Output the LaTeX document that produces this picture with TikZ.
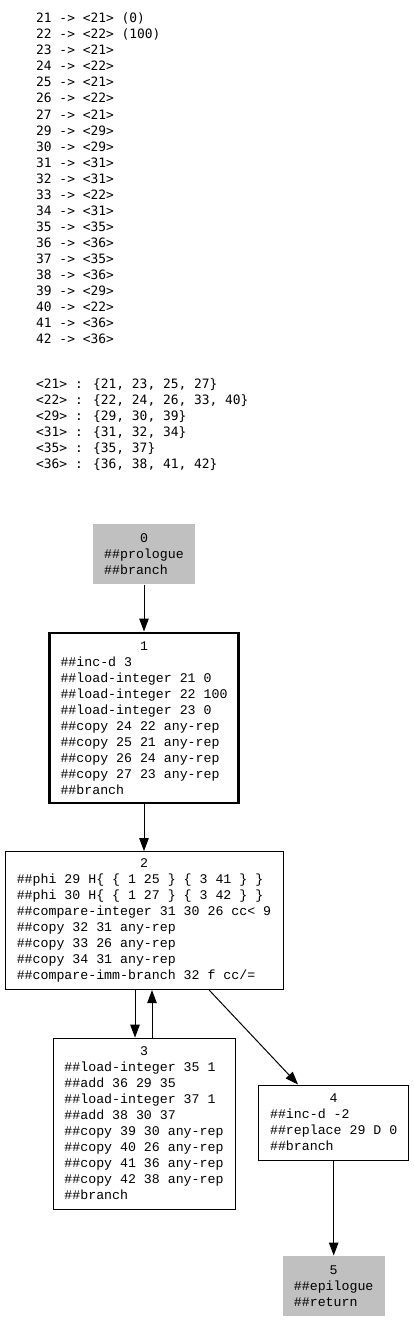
\documentclass[tikz,border=0pt]{standalone}
\usepackage{fontspec}
\usetikzlibrary{arrows.meta,positioning}
\newfontfamily\mapfont{DejaVu Sans Mono}
\newfontfamily\codefont{Liberation Mono}
\definecolor{termgray}{HTML}{C0C0C0}
% block number, centred over the widest line (given in characters)
\newcommand{\blocknum}[2]{\makebox[#2\fontcharwd\font`0]{#1}}
\tikzset{
    block/.style={draw, line width=1pt, rectangle, align=left, inner sep=0pt,
        font=\codefont\fontsize{13.25}{16}\selectfont},
    termblock/.style={block, draw=none, fill=termgray},
    mainblock/.style={block, line width=2.6pt},
    flow/.style={-{Triangle[length=13pt, width=9.5pt]}, line width=1pt},
    mapline/.style={anchor=base west, inner sep=0pt,
        font=\mapfont\fontsize{12.9}{16}\selectfont}
}
\begin{document}
\begin{tikzpicture}[x=1pt, y=-1pt]
    \useasboundingbox (0,0) rectangle (413,1320);

    % Value numbering map
    \foreach \txt [count=\i from 0] in {{21 -> <21> (0)}, {22 -> <22> (100)},
        {23 -> <21>}, {24 -> <22>}, {25 -> <21>}, {26 -> <22>}, {27 -> <21>},
        {29 -> <29>}, {30 -> <29>}, {31 -> <31>}, {32 -> <31>}, {33 -> <22>},
        {34 -> <31>}, {35 -> <35>}, {36 -> <36>}, {37 -> <35>}, {38 -> <36>},
        {39 -> <29>}, {40 -> <22>}, {41 -> <36>}, {42 -> <36>}}
        \node[mapline] (map\i) at (36, {22.7+16.05*\i}) {\txt};

    % Equivalence classes
    \foreach \txt [count=\i from 0] in {{<21> : \{21, 23, 25, 27\}},
        {<22> : \{22, 24, 26, 33, 40\}}, {<29> : \{29, 30, 39\}},
        {<31> : \{31, 32, 34\}}, {<35> : \{35, 37\}}, {<36> : \{36, 38, 41, 42\}}}
        \node[mapline] (cls\i) at (36, {388.7+16*\i}) {\txt};

    % Basic blocks
    \node[termblock, minimum width=102pt, minimum height=60pt] (b0) at (144,554)
        {\blocknum{0}{10}\\\#\#prologue\\\#\#branch};
    \node[mainblock, minimum width=189pt, minimum height=170pt, below=47pt of b0] (b1)
        {\blocknum{1}{21}\\\#\#inc-d 3\\\#\#load-integer 21 0\\\#\#load-integer 22 100\\
         \#\#load-integer 23 0\\\#\#copy 24 22 any-rep\\\#\#copy 25 21 any-rep\\
         \#\#copy 26 24 any-rep\\\#\#copy 27 23 any-rep\\\#\#branch};
    \node[block, minimum width=278pt, minimum height=138pt, below=47pt of b1] (b2)
        {\blocknum{2}{32}\\\#\#phi 29 H\{ \{ 1 25 \} \{ 3 41 \} \}\\
         \#\#phi 30 H\{ \{ 1 27 \} \{ 3 42 \} \}\\\#\#compare-integer 31 30 26 cc< 9\\
         \#\#copy 32 31 any-rep\\\#\#copy 33 26 any-rep\\\#\#copy 34 31 any-rep\\
         \#\#compare-imm-branch 32 f cc/=};
    \node[block, minimum width=182pt, minimum height=171pt, below=47.5pt of b2] (b3)
        {\blocknum{3}{20}\\\#\#load-integer 35 1\\\#\#add 36 29 35\\\#\#load-integer 37 1\\
         \#\#add 38 30 37\\\#\#copy 39 30 any-rep\\\#\#copy 40 26 any-rep\\
         \#\#copy 41 36 any-rep\\\#\#copy 42 38 any-rep\\\#\#branch};
    \node[block, minimum width=150pt, minimum height=75pt] (b4) at (333.7,1122.5)
        {\blocknum{4}{16}\\\#\#inc-d -2\\\#\#replace 29 D 0\\\#\#branch};
    \node[termblock, minimum width=102pt, minimum height=60pt, below=95pt of b4] (b5)
        {\blocknum{5}{10}\\\#\#epilogue\\\#\#return};

    % Control flow
    \draw[flow] (b0) -- (b1);
    \draw[flow] (b1) -- (b2);
    \draw[flow] ([xshift=-9pt]b2.south) -- ([xshift=-9pt]b3.north);
    \draw[flow] ([xshift=8pt]b3.north) -- ([xshift=8pt]b2.south);
    \draw[flow] (b2) -- (b4);
    \draw[flow] (b4) -- (b5);
\end{tikzpicture}
\end{document}
